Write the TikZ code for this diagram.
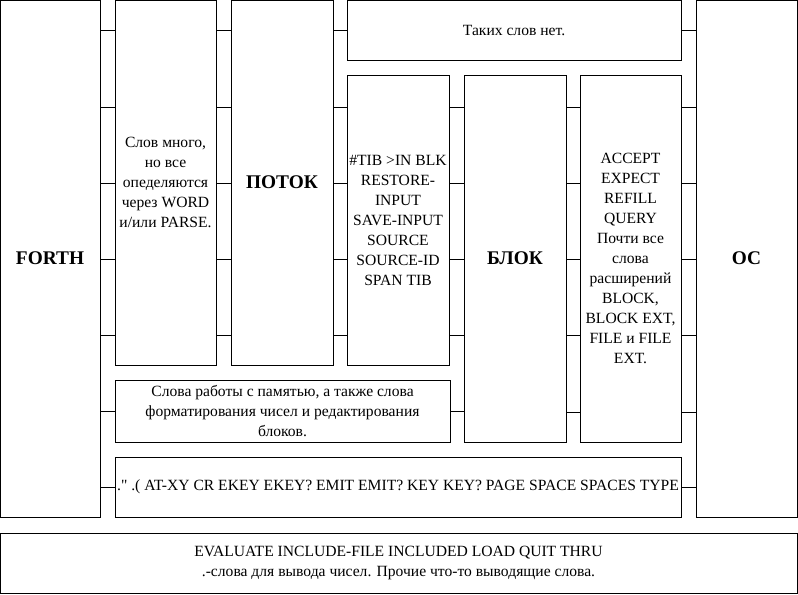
\documentclass[tikz,border=0pt]{standalone}
\usepackage{fontspec}
\setmainfont{Liberation Serif}[Ligatures=TeXOff]
\usepackage{tikz}
\usetikzlibrary{positioning, calc}

\tikzset{
  blk/.style={draw, line width=0.75pt, rectangle, align=center, inner sep=1pt,
    font=\fontsize{11.7}{15}\selectfont},
  title/.style={blk, font=\fontsize{14.5}{17}\selectfont\bfseries},
  link/.style={line width=0.75pt}
}

\begin{document}
\begin{tikzpicture}[x=0.75pt, y=-0.75pt]
\useasboundingbox (0,0) rectangle (798,594);
% columns
\node[title, minimum width=75pt, minimum height=387.75pt] (forth) at (50,258.5) {FORTH};
\node[blk, minimum width=75.75pt, minimum height=273.75pt] (slova) at (165.5,182.5)
  {Слов много,\\но все\\опеделяются\\через WORD\\и/или PARSE.};
\node[title, minimum width=76.5pt, minimum height=273.75pt] (potok) at (282,182.5) {ПОТОК};
\node[blk, minimum width=250.5pt, minimum height=45pt] (net) at (514,30) {Таких слов нет.};
\node[blk, minimum width=76.5pt, minimum height=217.5pt] (tib) at (398,220)
  {\#TIB >IN BLK\\RESTORE-\\INPUT\\SAVE-INPUT\\SOURCE\\SOURCE-ID\\SPAN TIB};
\node[title, minimum width=76.5pt, minimum height=275.25pt] (blok) at (515,258.5) {БЛОК};
\node[blk, minimum width=75.75pt, minimum height=275.25pt] (accept) at (630.5,258.5)
  {ACCEPT\\EXPECT\\REFILL\\QUERY\\Почти все\\слова\\расширений\\BLOCK,\\BLOCK EXT,\\FILE и FILE\\EXT.};
\node[title, minimum width=75.75pt, minimum height=387.75pt] (os) at (746.5,258.5) {ОС};
% rows
\node[blk, minimum width=251.25pt, minimum height=46.5pt] (pamyat) at (282.5,411)
  {Слова работы с памятью, а также слова\\форматирования чисел и редактирования\\блоков.};
\node[blk, minimum width=424.5pt, minimum height=45pt] (vyvod) at (398,487)
  {." .( AT-XY CR EKEY EKEY? EMIT EMIT? KEY KEY? PAGE SPACE SPACES TYPE};
\node[blk, minimum width=597.75pt, minimum height=45pt] (niz) at (398.5,563)
  {EVALUATE INCLUDE-FILE INCLUDED LOAD QUIT THRU\\.-слова для вывода чисел. Прочие что-то выводящие слова.};

% links
\foreach \y in {30,107,183,259,335} % forth - slova - potok
{\draw[link] (forth.east |- 0,\y) -- (slova.west |- 0,\y);
 \draw[link] (slova.east |- 0,\y) -- (potok.west |- 0,\y);}
\draw[link] (forth.east |- pamyat) -- (pamyat.west);
\draw[link] (forth.east |- vyvod) -- (vyvod.west);
\draw[link] (potok.east |- net) -- (net.west);
\draw[link] (net.east) -- (os.west |- net);
\foreach \y in {107,183,259,335} % potok - tib - blok
{\draw[link] (potok.east |- 0,\y) -- (tib.west |- 0,\y);
 \draw[link] (tib.east |- 0,\y) -- (blok.west |- 0,\y);}
\draw[link] (pamyat.east) -- (blok.west |- pamyat);
\foreach \y in {107,183,259,335,412} % blok - accept - os
{\draw[link] (blok.east |- 0,\y) -- (accept.west |- 0,\y);
 \draw[link] (accept.east |- 0,\y) -- (os.west |- 0,\y);}
\draw[link] (vyvod.east) -- (os.west |- vyvod);
\end{tikzpicture}
\end{document}
